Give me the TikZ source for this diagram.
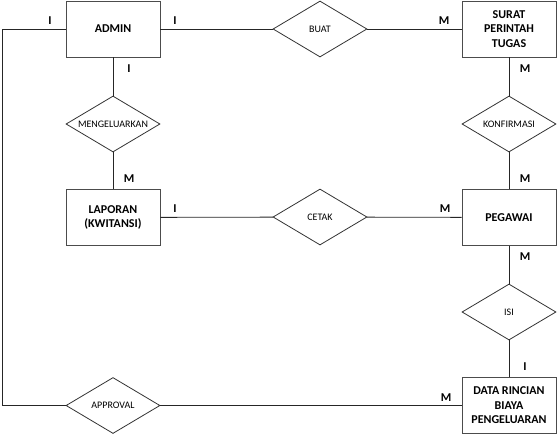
\documentclass[tikz,border=0pt]{standalone}
\usepackage{fontspec}
\setmainfont{Carlito}
\usetikzlibrary{shapes.geometric}
\tikzset{x=1pt, y=-1pt,
    entity/.style={
        draw=black!70,
        line width=0.9pt,
        fill=white,
        align=center,
        minimum width=94pt,
        minimum height=56pt,
        font=\fontsize{12}{14.5}\selectfont\bfseries},
    relation/.style={
        diamond,
        draw=black!80,
        line width=0.8pt,
        fill=white,
        aspect=1.7,
        inner sep=0pt,
        minimum width=94pt,
        minimum height=56pt,
        font=\fontsize{10}{12}\selectfont},
    card/.style={
        font=\fontsize{12}{14}\selectfont\bfseries},
    link/.style={
        draw=black!85,
        line width=0.8pt}}

\begin{document}
\begin{tikzpicture}
        \useasboundingbox (0,0) rectangle (560,437);

        % entitas
        \node[entity] (admin) at (113,29) {ADMIN};
        \node[entity] (surat) at (509,29) {SURAT\\PERINTAH\\TUGAS};
        \node[entity] (laporan) at (113,217.5) {LAPORAN\\(KWITANSI)};
        \node[entity] (pegawai) at (509,217.5) {PEGAWAI};
        \node[entity] (data) at (509,405.5) {DATA RINCIAN\\BIAYA\\PENGELUARAN};

        % relasi
        \node[relation] (buat) at (320,29) {BUAT};
        \node[relation] (mengeluarkan) at (113,124) {MENGELUARKAN};
        \node[relation] (konfirmasi) at (509,124) {KONFIRMASI};
        \node[relation] (cetak) at (320,217) {CETAK};
        \node[relation] (isi) at (509,312) {ISI};
        \node[relation] (approval) at (113,405.5) {APPROVAL};

        \coordinate (lt) at (2,29);
        \coordinate (lb) at (2,405.5);

        \draw[link] (admin) -- (buat) -- (surat);
        \draw[link] (admin) -- (mengeluarkan) -- (laporan);
        \draw[link] (surat) -- (konfirmasi) -- (pegawai);
        \draw[link] (laporan) -- (cetak) -- (pegawai);
        \draw[link] (pegawai) -- (isi) -- (data);
        \draw[link] (admin) -- (lt) -- (lb) -- (approval) -- (data);

        % kardinalitas
        \node[card] (c1) at (50,21) {I};
        \node[card] (c2) at (175,21) {I};
        \node[card] (c3) at (444,21) {M};
        \node[card] (c4) at (129,69) {I};
        \node[card] (c5) at (525,69) {M};
        \node[card] (c6) at (129,179) {M};
        \node[card] (c7) at (175,209) {I};
        \node[card] (c8) at (445,209) {M};
        \node[card] (c9) at (525,179) {M};
        \node[card] (c10) at (525,257) {M};
        \node[card] (c11) at (525,367) {I};
        \node[card] (c12) at (446,398) {M};
    \end{tikzpicture}
\end{document}
